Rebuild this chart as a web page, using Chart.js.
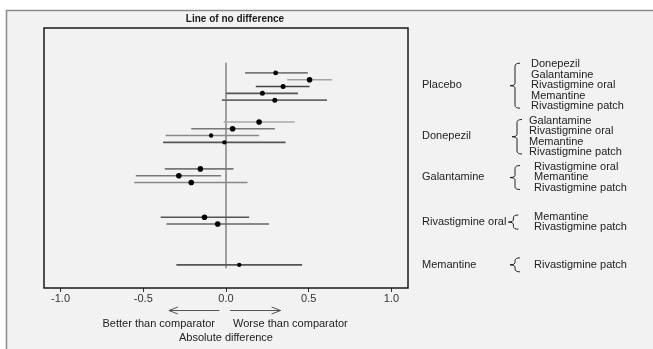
<!DOCTYPE html>
<html>
<head>
<meta charset="utf-8">
<title>Absolute difference</title>
<script src="https://cdn.jsdelivr.net/npm/chart.js@4.4.0/dist/chart.umd.min.js"></script>
<style>
    html, body { margin: 0; padding: 0; background: #fff; }
    #wrap { width: 653px; height: 349px; }
</style>
</head>
<body>
<div id="wrap"><canvas id="forest"></canvas></div>
<script>
// forest plot - absolute differences between treatments and their comparators

const comparators = ['Placebo', 'Donepezil', 'Galantamine', 'Rivastigmine oral', 'Memantine'];
const treatments = [
    'Donepezil', 'Galantamine', 'Rivastigmine oral', 'Memantine', 'Rivastigmine patch',
    'Galantamine', 'Rivastigmine oral', 'Memantine', 'Rivastigmine patch',
    'Rivastigmine oral', 'Memantine', 'Rivastigmine patch',
    'Memantine', 'Rivastigmine patch',
    'Rivastigmine patch'
];
const groupIndex = [0, 0, 0, 0, 0, 1, 1, 1, 1, 2, 2, 2, 3, 3, 4];
const rowY = [0, 1, 2, 3, 4, 7.2, 8.2, 9.2, 10.2, 14.1, 15.1, 16.1, 21.2, 22.2, 28.2];
const estimates = [0.30, 0.505, 0.345, 0.22, 0.295, 0.20, 0.04, -0.09, -0.01, -0.155, -0.285, -0.21, -0.13, -0.05, 0.08];
const ciLow = [0.115, 0.37, 0.18, 0.0, -0.025, -0.015, -0.21, -0.365, -0.38, -0.37, -0.545, -0.555, -0.395, -0.36, -0.30];
const ciHigh = [0.495, 0.64, 0.505, 0.435, 0.61, 0.415, 0.295, 0.20, 0.36, 0.045, -0.03, 0.13, 0.14, 0.26, 0.46];
const groupLabelY = [1.8, 9.3, 15.3, 21.9, 28.2];
const xTicks = [-1.0, -0.5, 0.0, 0.5, 1.0];
const zeroLineSpan = [-1.5, 28.7];

const FONT = '"Liberation Sans", Arial, Helvetica, sans-serif';
const ciColors = ['#7a7a7a', '#a3a3a3', '#444', '#555', '#666', '#a8a8a8', '#777', '#888', '#555',
                  '#777', '#777', '#888', '#555', '#666', '#555'];
const dotRadius = [2.4, 2.8, 2.5, 2.5, 2.5, 2.8, 2.8, 2.2, 2.2, 2.8, 2.8, 2.8, 2.8, 2.8, 2.2];
// x of the brace spine and of the item list, per comparator group
const braceX = [515, 517, 515, 499, 515];
const itemX = [531, 529, 534, 534, 534];
const LABEL_X = 422;
const ITEM_STEP = 10.5;

function drawBrace(ctx, x, top, bottom) {
    const mid = (top + bottom) / 2;
    ctx.beginPath();
    ctx.moveTo(x + 5, top);
    ctx.quadraticCurveTo(x, top, x, top + 3);
    ctx.lineTo(x, mid - 2);
    ctx.quadraticCurveTo(x, mid, x - 5, mid);
    ctx.quadraticCurveTo(x, mid, x, mid + 2);
    ctx.lineTo(x, bottom - 3);
    ctx.quadraticCurveTo(x, bottom, x + 5, bottom);
    ctx.stroke();
}

function drawArrow(ctx, x1, x2, y) {
    const dir = Math.sign(x2 - x1);
    ctx.beginPath();
    ctx.moveTo(x1, y);
    ctx.lineTo(x2, y);
    ctx.moveTo(x2 - dir * 9, y - 3.5);
    ctx.lineTo(x2, y);
    ctx.lineTo(x2 - dir * 9, y + 3.5);
    ctx.stroke();
}

const decorations = {
    id: 'decorations',
    beforeDraw(chart) {
        const ctx = chart.ctx;
        ctx.save();
        ctx.fillStyle = '#fff';
        ctx.fillRect(0, 0, chart.width, chart.height);
        ctx.fillStyle = '#f2f2f2';
        ctx.fillRect(6, 10, chart.width - 6, chart.height - 10);
        ctx.strokeStyle = '#8c8c8c';
        ctx.lineWidth = 1.5;
        ctx.beginPath();
        ctx.moveTo(6.5, chart.height);
        ctx.lineTo(6.5, 10.5);
        ctx.lineTo(chart.width, 10.5);
        ctx.stroke();
        ctx.restore();
    },
    afterDraw(chart) {
        const ctx = chart.ctx;
        const area = chart.chartArea;
        const xs = chart.scales.x;
        const ys = chart.scales.y;
        const x0 = xs.getPixelForValue(0);

        ctx.save();
        // plot frame
        ctx.strokeStyle = '#1a1a1a';
        ctx.lineWidth = 1.5;
        ctx.strokeRect(area.left, area.top, area.right - area.left, area.bottom - area.top);

        ctx.fillStyle = '#1a1a1a';
        ctx.textBaseline = 'middle';
        ctx.textAlign = 'center';
        ctx.font = 'bold 10px ' + FONT;
        ctx.fillText('Line of no difference', x0 + 9, 19);

        // direction arrows and captions under the axis
        ctx.strokeStyle = '#555';
        ctx.lineWidth = 1;
        drawArrow(ctx, xs.getPixelForValue(-0.04), xs.getPixelForValue(-0.345), 310.5);
        drawArrow(ctx, xs.getPixelForValue(0.025), xs.getPixelForValue(0.33), 310.5);

        ctx.fillStyle = '#222';
        ctx.font = '11px ' + FONT;
        ctx.textAlign = 'right';
        ctx.fillText('Better than comparator', x0 - 11, 324);
        ctx.textAlign = 'left';
        ctx.fillText('Worse than comparator', x0 + 7, 324);
        ctx.textAlign = 'center';
        ctx.fillText('Absolute difference', x0, 338);

        // comparator groups on the right
        ctx.strokeStyle = '#222';
        ctx.lineWidth = 1;
        comparators.forEach((name, g) => {
            const cy = ys.getPixelForValue(groupLabelY[g]);
            ctx.textAlign = 'left';
            ctx.fillText(name, LABEL_X, cy);

            const items = treatments.filter((t, i) => groupIndex[i] === g);
            const first = cy - (items.length - 1) / 2 * ITEM_STEP;
            items.forEach((t, k) => ctx.fillText(t, itemX[g], first + k * ITEM_STEP));

            // keep the brace clear of a long comparator name
            const spine = Math.max(braceX[g], LABEL_X + ctx.measureText(name).width + 7);
            const last = first + (items.length - 1) * ITEM_STEP;
            const top = Math.min(first - 1, cy - 7);
            const bottom = Math.max(last + 2, cy + 7);
            drawBrace(ctx, spine, top, bottom);
        });
        ctx.restore();
    }
};

const ciDatasets = estimates.map((est, i) => ({
    data: [{ x: ciLow[i], y: rowY[i] }, { x: ciHigh[i], y: rowY[i] }],
    showLine: true,
    borderColor: ciColors[i],
    borderWidth: 1.6,
    pointRadius: 0,
    order: 1
}));

new Chart(document.getElementById('forest'), {
    type: 'scatter',
    data: {
        datasets: [
            {
                data: estimates.map((v, i) => ({ x: v, y: rowY[i] })),
                backgroundColor: '#000',
                borderColor: '#000',
                borderWidth: 0,
                pointRadius: dotRadius,
                order: 0
            },
            ...ciDatasets,
            {
                data: zeroLineSpan.map(y => ({ x: 0, y: y })),
                showLine: true,
                borderColor: '#8a8a8a',
                borderWidth: 1.6,
                pointRadius: 0,
                order: 2
            }
        ]
    },
    options: {
        responsive: true,
        maintainAspectRatio: false,
        animation: false,
        layout: { padding: { left: 44, top: 28, right: 245, bottom: 0 } },
        plugins: {
            legend: { display: false },
            tooltip: { enabled: false }
        },
        scales: {
            x: {
                type: 'linear',
                min: -1.1,
                max: 1.1,
                afterBuildTicks: axis => { axis.ticks = xTicks.map(v => ({ value: v })); },
                afterFit: axis => { axis.height = 61; },
                border: { display: false },
                grid: {
                    drawOnChartArea: false,
                    drawTicks: true,
                    tickLength: 4,
                    color: '#333'
                },
                ticks: {
                    autoSkip: false,
                    maxRotation: 0,
                    padding: 0,
                    color: '#333',
                    font: { family: FONT, size: 11 },
                    callback: v => v.toFixed(1)
                }
            },
            y: {
                type: 'linear',
                display: false,
                reverse: true,
                min: -6.6,
                max: 31.6
            }
        }
    },
    plugins: [decorations]
});
</script>
</body>
</html>
